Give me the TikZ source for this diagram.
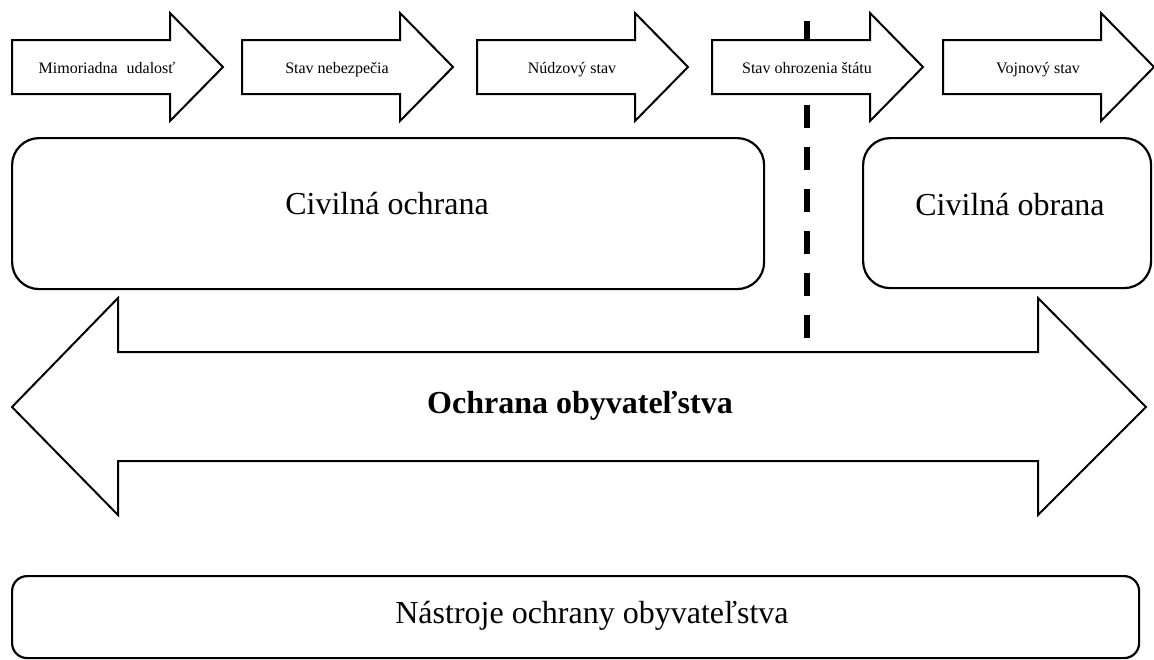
\documentclass[tikz,border=0pt]{standalone}
\usepackage{fontspec}
\setmainfont{Liberation Serif}
\begin{document}
\begin{tikzpicture}[x=1pt,y=-1pt,
  outline/.style={draw=black, line width=2pt, fill=white, line join=miter},
  roundbox/.style={draw=black, line width=2.2pt, fill=white, rounded corners=#1, inner sep=0pt, anchor=north west},
  roundbox/.default=27pt,
  divider/.style={line width=6.5pt, dash pattern=on 23pt off 19pt},
  smalltext/.style={font=\fontsize{16}{19}\selectfont, inner sep=0pt, anchor=base},
  bigtext/.style={font=\fontsize{32}{38}\selectfont, inner sep=0pt, anchor=base},
  boldtext/.style={font=\fontsize{32}{38}\selectfont\bfseries, inner sep=0pt, anchor=base}]
\useasboundingbox (0,0) rectangle (1154,659);

% dashed border between peace-time and war-time states
\coordinate (divtop) at (807,21);
\coordinate (divbot) at (807,338);
\draw[divider] (divtop) -- (divbot);

% chain of state arrows
\foreach \lx/\nm/\txt in {12/mu/{Mimoriadna\hspace{0.3em} udalosť},
                          242/sn/{Stav nebezpečia},
                          477/ns/{Núdzový stav},
                          712/so/{Stav ohrozenia štátu},
                          943/vs/{Vojnový stav}}{
  \draw[outline] (\lx,40) -- ++(158,0) -- ++(0,-27) -- ++(53,54)
                 -- ++(-53,54) -- ++(0,-27) -- ++(-158,0) -- cycle;
  \node[smalltext] (\nm) at (\lx+95,73) {\txt};
}

% civil protection and civil defence
\node[roundbox, minimum width=752pt, minimum height=151pt] (cochrana) at (11,137) {};
\node[bigtext] (cochranaT) at (387,214) {Civilná ochrana};
\node[roundbox, minimum width=288pt, minimum height=150pt] (cobrana) at (862,137) {};
\node[bigtext] (cobranaT) at (1010,215) {Civilná obrana};

% double arrow: protection of the population
\draw[outline] (12,407) -- (118,298) -- (118,352) -- (1038,352) -- (1038,298)
  -- (1146,407) -- (1038,515) -- (1038,461) -- (118,461) -- (118,515) -- cycle;
\node[boldtext] (oo) at (580,413) {Ochrana obyvateľstva};

% tools
\node[roundbox=15pt, minimum width=1127pt, minimum height=82pt] (tools) at (11,575) {};
\node[bigtext] (toolsT) at (592,623) {Nástroje ochrany obyvateľstva};
\end{tikzpicture}
\end{document}
